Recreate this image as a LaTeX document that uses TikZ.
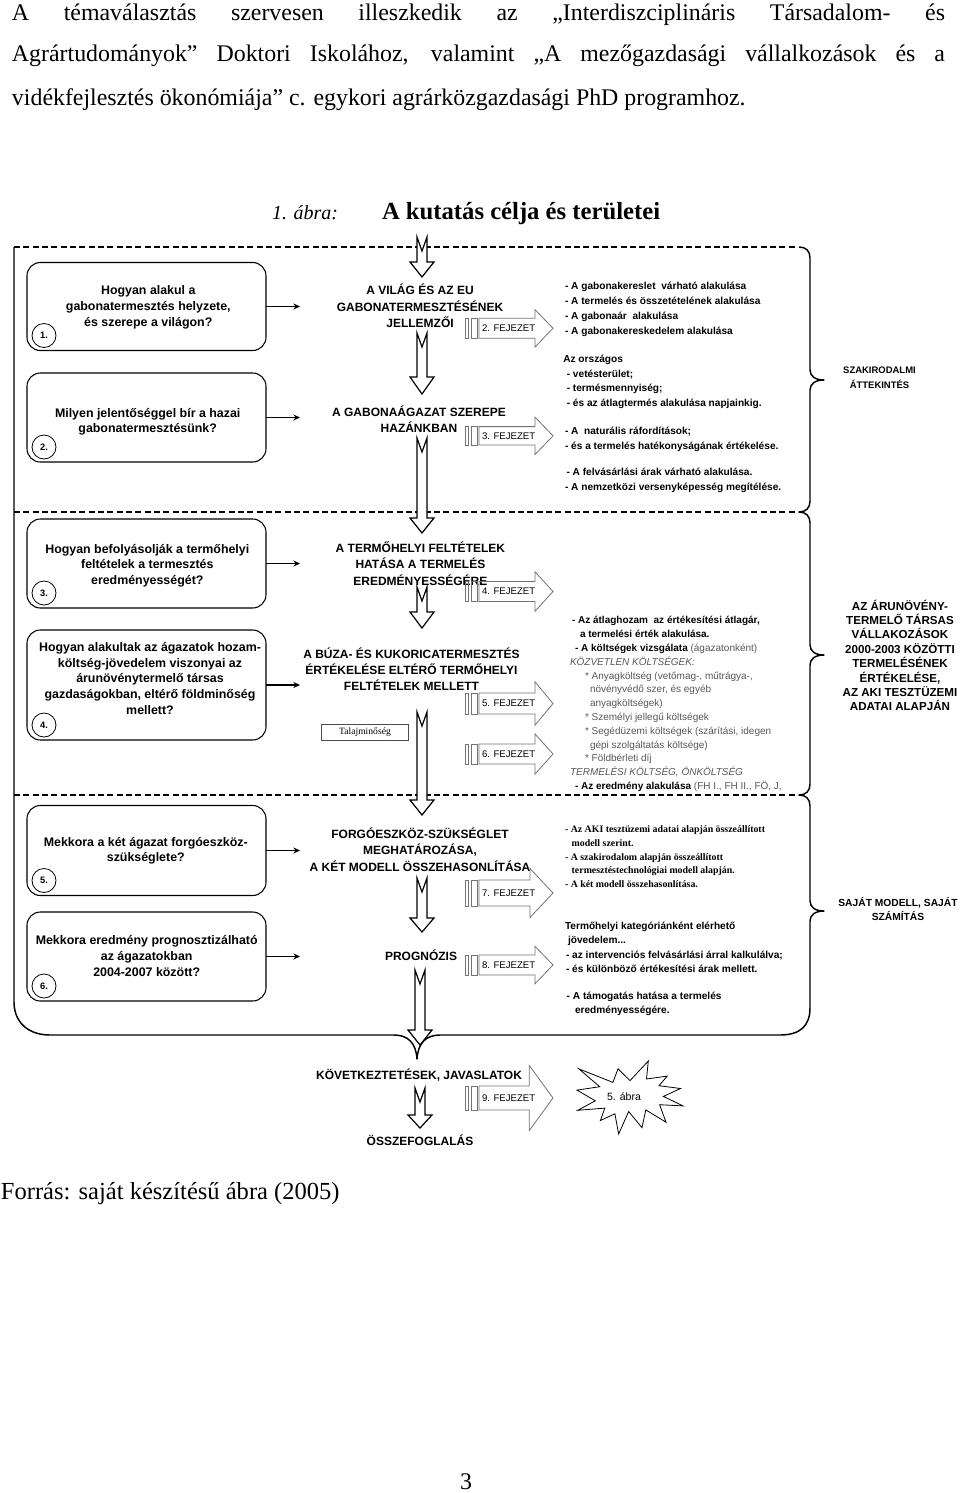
\documentclass[tikz,border=0pt]{standalone}
\usepackage{fontspec}
\setmainfont{Liberation Serif}
\newfontfamily\arialf{Liberation Sans}
\usetikzlibrary{arrows.meta}
\newlength\pxu \setlength\pxu{0.75pt}
\newcommand\fsz[2]{\fontsize{#1}{#2}\selectfont}
\newcommand\hs[1]{\hspace*{#1\pxu}}
\newcommand\lgt{\mdseries\color{black!65}}
% hollow notched down arrow: x, tail, head start, tip
\newcommand\harrow[4]{\draw[hollow] (#1-5,#2) -- (#1,#2+14) -- (#1+5,#2) -- (#1+5,#3) -- (#1+12,#3) -- (#1,#4) -- (#1-12,#3) -- (#1-5,#3) -- cycle;}
% chapter arrow: name, cy, body half, head half, head base x, label
\newcommand\chap[6]{%
  \draw[chapline] (465,#2-#3) rectangle (468.5,#2+#3);
  \draw[chapline] (471.5,#2-#3) rectangle (477,#2+#3);
  \draw[chapline] (479,#2-#3) -- (#5,#2-#3) -- (#5,#2-#4) -- (553,#2) -- (#5,#2+#4) -- (#5,#2+#3) -- (479,#2+#3) -- cycle;
  \node[chaptext] (#1) at (482,#2) {#6};}
\tikzset{
  every node/.style={inner sep=0pt, outer sep=0pt},
  hdr/.style={anchor=base west, font=\fsz{17.9}{22}},
  frame/.style={line width=1.1pt, line join=round},
  dashline/.style={line width=0.8pt, dash pattern=on 4.5pt off 2.5pt},
  qbox/.style={draw, line width=0.8pt, rounded corners=10pt, minimum width=179.25pt},
  qtext/.style={align=center, font=\arialf\bfseries\fsz{9.3}{11.85}},
  qnum/.style={draw, circle, line width=0.6pt, minimum size=18pt, font=\arialf\bfseries\fsz{7}{8}},
  qarrow/.style={-{Stealth[length=5pt,width=4.5pt]}, line width=0.8pt},
  ctext/.style={align=center, font=\arialf\bfseries\fsz{9}{12.2}},
  hollow/.style={draw, fill=white, line width=0.9pt, line join=miter},
  chapline/.style={draw=black!55, line width=0.6pt},
  chaptext/.style={anchor=west, font=\arialf\fsz{7.2}{8}},
  rtext/.style={anchor=west, align=left},
  rlab/.style={align=center},
  burst/.style={draw, line width=0.6pt, line join=miter},
}
\begin{document}
\begin{tikzpicture}[x=0.75pt,y=-0.75pt]
\useasboundingbox (0,0) rectangle (960,1493);
\fill[white] (0,0) rectangle (960,1493);

% ---------- header text ----------
\node[hdr] (h1) at (12,20) {\makebox[699.75pt][s]{A témaválasztás szervesen illeszkedik az „Interdiszciplináris Társadalom- és}};
\node[hdr] (h2) at (12,61) {\makebox[699.75pt][s]{Agrártudományok” Doktori Iskolához, valamint „A mezőgazdasági vállalkozások és a}};
\node[hdr] (h3) at (12,105) {vidékfejlesztés ökonómiája” c. egykori agrárközgazdasági PhD programhoz.};
\node[anchor=base west, font=\itshape\fsz{15}{18}] (capnum) at (272,219) {1. ábra:};
\node[anchor=base west, font=\bfseries\fsz{18.5}{22}] (captitle) at (382,219) {A kutatás célja és területei};

% ---------- dashed separators ----------
\draw[dashline] (14,247) -- (797,247);
\draw[dashline] (14,512) -- (797,512);
\draw[dashline] (14,795) -- (797,795);

% ---------- frame with braces ----------
\draw[frame] (799,247) .. controls (806,247) and (810,251) .. (810,258)
  -- (810,370) .. controls (810,376) and (815,380) .. (824,380) .. controls (815,380) and (810,384) .. (810,390)
  -- (810,501) .. controls (810,508) and (806,512) .. (799,512) .. controls (806,512) and (810,516) .. (810,523)
  -- (810,645) .. controls (810,651) and (815,655) .. (824,655) .. controls (815,655) and (810,659) .. (810,665)
  -- (810,784) .. controls (810,791) and (806,795) .. (799,795) .. controls (806,795) and (810,799) .. (810,806)
  -- (810,901) .. controls (810,907) and (815,911) .. (824,911) .. controls (815,911) and (810,915) .. (810,921)
  -- (810,1008) .. controls (810,1026) and (800,1035) .. (780,1035)
  -- (440,1035) .. controls (426,1035) and (418,1043) .. (417,1059) .. controls (416,1043) and (408,1035) .. (394,1035)
  -- (50,1035) .. controls (28,1035) and (14,1022) .. (14,1002) -- (14,247);

% ---------- question boxes ----------
\node[qbox, minimum height=66pt] (b1) at (146.5,306.5) {};
\node[qbox, minimum height=66.75pt] (b2) at (146.5,417.5) {};
\node[qbox, minimum height=66.75pt] (b3) at (146.5,563.5) {};
\node[qbox, minimum height=82.5pt] (b4) at (146.5,685) {};
\node[qbox, minimum height=67.5pt] (b5) at (146.5,850.5) {};
\node[qbox, minimum height=66.75pt] (b6) at (146.5,956.5) {};

\node[qtext] (q1) at (148.3,307.2) {Hogyan alakul a\\gabonatermesztés helyzete,\\és szerepe a világon?};
\node[qtext] (q2) at (147.7,421.8) {Milyen jelentőséggel bír a hazai\\gabonatermesztésünk?};
\node[qtext] (q3) at (147.3,565.6) {Hogyan befolyásolják a termőhelyi\\feltételek a termesztés\\eredményességét?};
\node[qtext] (q4) at (150,678.4) {Hogyan alakultak az ágazatok hozam-\\költség-jövedelem viszonyai az\\árunövénytermelő társas\\gazdaságokban, eltérő földminőség\\mellett?};
\node[qtext] (q5) at (145.8,850.8) {Mekkora a két ágazat forgóeszköz-\\szükséglete?};
\node[qtext] (q6) at (146.7,955.8) {Mekkora eredmény prognosztizálható\\az ágazatokban\\2004-2007 között?};

\node[qnum] (n1) at (44,335.5) {1.};
\node[qnum] (n2) at (44,447) {2.};
\node[qnum] (n3) at (44,593) {3.};
\node[qnum] (n4) at (44,725) {4.};
\node[qnum] (n5) at (44,880.5) {5.};
\node[qnum] (n6) at (44,986) {6.};

\coordinate (e1) at (300,306.5);
\coordinate (e2) at (300,417.5);
\coordinate (e3) at (300,563.5);
\coordinate (e4) at (300,685);
\coordinate (e5) at (300,850.5);
\coordinate (e6) at (300,956.5);
\draw[qarrow] (b1.east) -- (e1);
\draw[qarrow] (b2.east) -- (e2);
\draw[qarrow] (b3.east) -- (e3);
\draw[qarrow] (b4.east) -- (e4);
\draw[qarrow] (b5.east) -- (e5);
\draw[qarrow] (b6.east) -- (e6);

% ---------- hollow down arrows ----------
\harrow{422}{237}{262}{277}
\harrow{422}{333}{377}{394}
\harrow{422}{438}{518}{533}
\harrow{422}{587}{612}{628}
\harrow{422}{712}{800}{815}
\harrow{422}{878}{918}{932}
\harrow{420}{970}{1030}{1045}
\harrow{420}{1088}{1115}{1128}

% ---------- centre texts ----------
\node[ctext] (c1) at (420,306) {A VILÁG ÉS AZ EU\\GABONATERMESZTÉSÉNEK\\JELLEMZŐI};
\node[ctext] (c2) at (419,419.2) {A GABONAÁGAZAT SZEREPE\\HAZÁNKBAN};
\node[ctext] (c3) at (420.4,563.7) {A TERMŐHELYI FELTÉTELEK\\HATÁSA A TERMELÉS\\EREDMÉNYESSÉGÉRE};
\node[ctext] (c4) at (411.5,669.3) {A BÚZA- ÉS KUKORICATERMESZTÉS\\ÉRTÉKELÉSE ELTÉRŐ TERMŐHELYI\\FELTÉTELEK MELLETT};
\node[ctext] (c5) at (420,849.7) {FORGÓESZKÖZ-SZÜKSÉGLET\\MEGHATÁROZÁSA,\\A KÉT MODELL ÖSSZEHASONLÍTÁSA};
\node[ctext] (c6) at (421,955) {PROGNÓZIS};
\node[ctext] (c7) at (419,1075) {KÖVETKEZTETÉSEK, JAVASLATOK};
\node[ctext] (c8) at (420,1140) {ÖSSZEFOGLALÁS};

\node[draw=black!70, line width=0.5pt, minimum width=65pt, minimum height=12pt, font=\fsz{7.2}{8}] (talaj) at (365,732) {Talajminőség};

% ---------- chapter arrows ----------
\chap{ch2}{328.3}{10}{18.7}{535}{2. FEJEZET}
\chap{ch3}{435.8}{9.2}{18.7}{535}{3. FEJEZET}
\chap{ch4}{591.5}{10}{19.7}{535}{4. FEJEZET}
\chap{ch5}{703.5}{10.5}{21.7}{535}{5. FEJEZET}
\chap{ch6}{754}{10}{20}{535}{6. FEJEZET}
\chap{ch7}{893}{13}{24.5}{530}{7. FEJEZET}
\chap{ch8}{965}{10}{18.7}{535}{8. FEJEZET}
\chap{ch9}{1098}{12}{32.5}{529.3}{9. FEJEZET}

% ---------- right column texts ----------
\node[rtext, font=\arialf\bfseries\fsz{7.6}{11.25}] (r1) at (565,309.4) {- A gabonakereslet\ \ várható alakulása\\- A termelés és összetételének alakulása\\- A gabonaár\ \ alakulása\\- A gabonakereskedelem alakulása};
\node[rtext, font=\arialf\bfseries\fsz{7.6}{11.1}] (r2) at (563.3,381.9) {Az országos\\\hs{3.5}- vetésterület;\\\hs{3.5}- termésmennyiség;\\\hs{3.5}- és az átlagtermés alakulása napjainkig.};
\node[rtext, font=\arialf\bfseries\fsz{7.6}{10.8}] (r3) at (565,439.5) {- A\ \ naturális ráfordítások;\\- és a termelés hatékonyságának értékelése.};
\node[rtext, font=\arialf\bfseries\fsz{7.6}{11.25}] (r4) at (565,480.8) {\hs{1.5}- A felvásárlási árak várható alakulása.\\- A nemzetközi versenyképesség megítélése.};
\node[rtext, font=\arialf\bfseries\fsz{7.5}{10.35}] (r5) at (570,704) {\hs{2}- Az átlaghozam\ \ az értékesítési átlagár,\\
\hs{10}a termelési érték alakulása.\\
\hs{5}- A költségek vizsgálata {\lgt (ágazatonként)}\\
{\lgt\itshape KÖZVETLEN KÖLTSÉGEK:}\\
\hs{15}{\lgt * Anyagköltség (vetőmag-, műtrágya-,}\\
\hs{20}{\lgt növényvédő szer, és egyéb}\\
\hs{20}{\lgt anyagköltségek)}\\
\hs{15}{\lgt * Személyi jellegű költségek}\\
\hs{15}{\lgt * Segédüzemi költségek (szárítási, idegen}\\
\hs{20}{\lgt gépi szolgáltatás költsége)}\\
\hs{15}{\lgt * Földbérleti díj}\\
{\lgt\itshape TERMELÉSI KÖLTSÉG, ÖNKÖLTSÉG}\\
\hs{5}- Az eredmény alakulása {\lgt (FH I., FH II., FÖ, J,}};
\node[rtext, font=\bfseries\fsz{7.4}{10.4}] (r6) at (565,856.7) {- Az AKI tesztüzemi adatai alapján összeállított\\\hs{6.7}modell szerint.\\- A szakirodalom alapján összeállított\\\hs{6.7}termesztéstechnológiai modell alapján.\\- A két modell összehasonlítása.};
\node[rtext, font=\arialf\bfseries\fsz{7.6}{10.9}] (r7) at (565,947.3) {Termőhelyi kategóriánként elérhető\\\hs{3}jövedelem...\\\hs{1}- az intervenciós felvásárlási árral kalkulálva;\\\hs{1}- és különböző értékesítési árak mellett.};
\node[rtext, font=\arialf\bfseries\fsz{7.6}{10.7}] (r8) at (566.7,1003.9) {- A támogatás hatása a termelés\\\hs{8.3}eredményességére.};

% ---------- right labels ----------
\node[rlab, font=\arialf\bfseries\fsz{7.1}{11.4}] (l1) at (879.5,378) {SZAKIRODALMI\\ÁTTEKINTÉS};
\node[rlab, font=\arialf\bfseries\fsz{8.7}{10.8}] (l2) at (900,655.5) {AZ ÁRUNÖVÉNY-\\TERMELŐ TÁRSAS\\VÁLLAKOZÁSOK\\2000-2003 KÖZÖTTI\\TERMELÉSÉNEK\\ÉRTÉKELÉSE,\\AZ AKI TESZTÜZEMI\\ADATAI ALAPJÁN};
\node[rlab, font=\arialf\bfseries\fsz{7.7}{11}] (l3) at (898,909) {SAJÁT MODELL, SAJÁT\\SZÁMÍTÁS};

% ---------- starburst ----------
\draw[burst] (630.0,1080.6) -- (648.3,1061) -- (646.5,1079.0) -- (667.2,1076.1) -- (659.0,1085.7) -- (680.5,1088.5) -- (663.4,1096.4) -- (683,1105.9) -- (659.6,1104.7) -- (666.0,1122.2) -- (645.8,1109.9) -- (642.0,1127.7) -- (628.7,1111.5) -- (618.6,1134) -- (614.9,1113.8) -- (600.4,1120.5) -- (604.8,1108.1) -- (577.7,1110.3) -- (595.3,1100.8) -- (577,1090.1) -- (599.7,1086.7) -- (578.8,1068.8) -- (612.9,1082.4) -- (618.0,1068.8) -- cycle;
\node[font=\arialf\fsz{7.9}{9}] (fig5) at (624,1097) {5. ábra};

% ---------- footer ----------
\node[anchor=base west, font=\fsz{18.4}{22}] (src) at (1,1199) {Forrás: saját készítésű ábra (2005)};
\node[hdr] (pg) at (460,1489) {3};
\end{tikzpicture}
\end{document}
